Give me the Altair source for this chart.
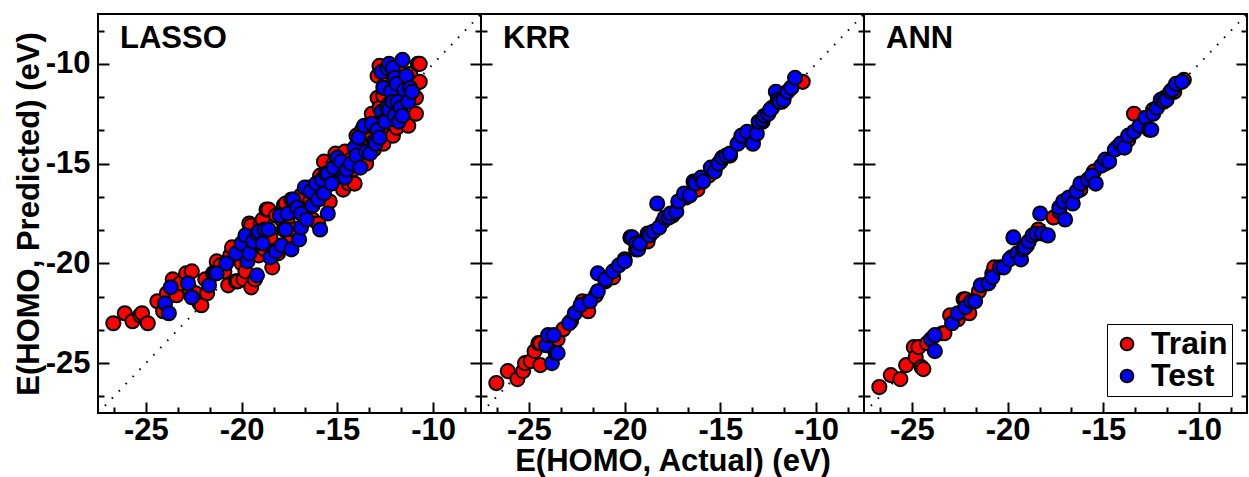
import altair as alt
import pandas as pd

# ---------------- data, (actual, predicted) pairs ----------------
lasso_train = [
    (-26.7, -23.0), (-26.1, -22.5), (-25.7, -22.9), (-25.3, -22.6), (-25.2, -22.5), (-24.9, -23.0),
    (-24.4, -21.9), (-24.1, -22.4), (-23.9, -21.5), (-23.6, -20.8), (-23.4, -21.6), (-23.2, -21.0),
    (-22.9, -20.5), (-22.7, -21.3), (-22.6, -20.4), (-22.4, -21.5), (-22.2, -22.0), (-22.1, -22.1),
    (-21.9, -20.8), (-21.8, -21.5), (-21.5, -20.5), (-21.3, -19.9), (-21.1, -20.1), (-20.9, -20.4),
    (-20.7, -21.1), (-20.6, -19.6), (-20.5, -19.2), (-20.3, -20.9), (-20.2, -20.9), (-20.1, -19.4),
    (-20.0, -20.0), (-19.9, -20.8), (-19.8, -20.4), (-19.6, -18.0), (-19.5, -21.2), (-19.5, -18.1),
    (-19.3, -20.8), (-19.1, -19.6), (-19.0, -18.0), (-18.9, -17.8), (-18.8, -19.3), (-18.7, -17.3),
    (-18.6, -17.3), (-18.5, -18.7), (-18.4, -20.2), (-18.2, -17.6), (-18.1, -19.5), (-17.9, -17.8),
    (-17.8, -17.1), (-17.7, -17.0), (-17.6, -17.9), (-17.5, -18.6), (-17.3, -18.3), (-17.2, -17.2),
    (-17.0, -17.0), (-16.9, -16.6), (-16.7, -17.3), (-16.5, -16.2), (-16.4, -16.8), (-16.3, -17.8),
    (-16.1, -16.3), (-16.0, -18.0), (-15.9, -15.6), (-15.8, -16.7), (-15.7, -14.9), (-15.5, -15.8),
    (-15.4, -16.9), (-15.2, -15.0), (-15.1, -14.5), (-14.9, -14.8), (-14.8, -15.6), (-14.7, -16.3),
    (-14.6, -14.4), (-14.4, -16.0), (-14.3, -14.8), (-14.2, -15.3), (-14.1, -16.0), (-14.0, -13.6),
    (-13.9, -14.2), (-13.8, -14.8), (-13.7, -13.3), (-13.6, -13.9), (-13.5, -15.0), (-13.4, -13.2),
    (-13.3, -13.8), (-13.2, -12.5), (-13.1, -14.3), (-13.0, -13.0), (-12.9, -11.7), (-12.9, -10.6),
    (-12.8, -10.1), (-12.8, -12.2), (-12.7, -13.4), (-12.6, -11.6), (-12.6, -14.0), (-12.5, -11.0),
    (-12.3, -12.0), (-12.3, -10.4), (-12.1, -13.6), (-12.0, -10.9), (-11.9, -13.2), (-11.8, -10.3),
    (-11.7, -11.0), (-11.6, -11.9), (-11.5, -12.7), (-11.4, -12.9), (-11.3, -13.1), (-11.2, -10.5),
    (-11.0, -11.1), (-10.9, -11.7), (-10.9, -12.5), (-10.8, -10.0), (-10.7, -10.0), (-10.7, -10.9),
]
lasso_test = [
    (-24.0, -22.0), (-23.8, -22.5), (-23.7, -21.2), (-22.8, -21.0), (-22.6, -21.7), (-21.7, -21.1),
    (-21.4, -20.5), (-21.3, -20.5), (-20.8, -20.0), (-20.3, -19.5), (-20.0, -19.0), (-19.8, -18.6),
    (-19.7, -19.9), (-19.6, -19.5), (-19.4, -18.9), (-19.2, -18.5), (-19.2, -20.6), (-19.1, -18.4),
    (-18.9, -19.0), (-18.8, -18.3), (-18.6, -18.3), (-18.5, -19.7), (-18.2, -19.4), (-18.0, -17.6),
    (-17.9, -19.1), (-17.8, -18.3), (-17.7, -18.3), (-17.6, -17.5), (-17.4, -16.8), (-17.4, -19.3),
    (-17.3, -16.8), (-17.1, -17.2), (-17.0, -18.8), (-16.9, -17.5), (-16.9, -18.2), (-16.7, -16.2),
    (-16.6, -17.8), (-16.4, -16.4), (-16.3, -17.1), (-16.1, -16.0), (-16.0, -16.8), (-15.9, -18.3),
    (-15.8, -15.8), (-15.7, -16.5), (-15.6, -15.5), (-15.5, -17.5), (-15.5, -15.5), (-15.3, -16.0),
    (-15.2, -15.2), (-15.0, -14.7), (-14.8, -14.9), (-14.7, -15.6), (-14.6, -15.7), (-14.5, -15.3),
    (-14.3, -15.0), (-14.1, -14.2), (-14.0, -14.6), (-13.9, -13.7), (-13.8, -15.2), (-13.6, -13.1),
    (-13.5, -14.4), (-13.3, -14.5), (-13.2, -13.0), (-13.1, -13.9), (-13.0, -14.0), (-12.9, -13.3),
    (-12.8, -13.7), (-12.7, -12.4), (-12.7, -10.4), (-12.6, -11.2), (-12.5, -12.8), (-12.5, -12.9),
    (-12.4, -12.2), (-12.4, -10.2), (-12.3, -12.3), (-12.3, -10.0), (-12.2, -11.4), (-12.1, -11.9),
    (-12.1, -10.2), (-12.0, -10.7), (-12.0, -12.6), (-11.9, -11.0), (-11.85, -11.9), (-11.8, -12.9),
    (-11.7, -12.2), (-11.6, -9.8), (-11.6, -12.6), (-11.5, -11.3), (-11.4, -10.6), (-11.3, -11.9),
    (-11.2, -11.2), (-11.1, -11.4),
]
krr_train = [
    (-26.7, -26.0), (-26.1, -25.4), (-25.6, -25.8), (-25.3, -25.4), (-25.2, -25.0), (-24.9, -24.9),
    (-24.7, -24.4), (-24.5, -24.0), (-24.4, -25.1), (-24.4, -24.0), (-23.5, -23.8), (-23.2, -23.3),
    (-22.8, -22.9), (-22.3, -22.2), (-22.2, -21.9), (-22.0, -22.0), (-21.9, -22.4), (-21.5, -21.6),
    (-21.0, -20.9), (-20.7, -20.6), (-20.6, -20.7), (-20.0, -19.8), (-19.4, -19.3), (-18.8, -18.9),
    (-18.0, -17.9), (-17.5, -17.6), (-16.8, -16.7), (-16.2, -16.3), (-15.6, -15.6), (-15.0, -14.9),
    (-14.5, -14.6), (-14.0, -13.9), (-13.4, -13.5), (-12.8, -12.9), (-12.3, -12.2), (-11.8, -11.9),
    (-11.3, -11.2), (-10.7, -10.9),
]
krr_test = [
    (-24.1, -24.1), (-24.0, -23.6), (-23.8, -25.0), (-23.7, -23.6), (-23.6, -24.5), (-23.5, -24.5),
    (-22.9, -23.0), (-22.6, -22.5), (-22.3, -22.1), (-21.8, -21.9), (-21.4, -21.4), (-21.4, -20.5),
    (-21.0, -20.8), (-20.6, -20.4), (-20.3, -20.1), (-20.0, -19.9), (-19.7, -18.7), (-19.6, -18.7),
    (-19.4, -19.0), (-19.3, -19.3), (-19.2, -19.0), (-18.8, -18.5), (-18.7, -18.6), (-18.5, -18.4),
    (-18.3, -17.0), (-18.2, -18.2), (-17.9, -17.7), (-17.7, -17.7), (-17.6, -17.5), (-17.3, -17.4),
    (-17.2, -16.9), (-16.9, -16.5), (-16.6, -16.6), (-16.4, -15.9), (-16.3, -16.0), (-16.0, -15.7),
    (-15.9, -15.9), (-15.5, -15.2), (-15.3, -15.4), (-15.1, -15.0), (-14.9, -14.7), (-14.7, -14.6),
    (-14.5, -14.5), (-14.1, -14.0), (-13.9, -13.6), (-13.6, -13.4), (-13.3, -14.0), (-13.1, -13.5),
    (-13.0, -12.9), (-12.8, -12.8), (-12.7, -12.6), (-12.5, -12.5), (-12.4, -12.3), (-12.1, -11.4),
    (-12.0, -11.8), (-11.9, -11.9), (-11.7, -11.8), (-11.5, -11.4), (-11.3, -11.2), (-11.1, -10.7),
]
ann_train = [
    (-26.7, -26.2), (-26.1, -25.6), (-25.6, -25.8), (-25.3, -25.1), (-24.9, -24.2), (-24.8, -24.7),
    (-24.65, -24.2), (-24.5, -25.2), (-24.4, -25.3), (-24.2, -24.0), (-23.4, -23.5), (-23.3, -23.5),
    (-23.0, -22.6), (-22.6, -22.8), (-22.3, -21.8), (-22.2, -21.8), (-22.0, -22.5), (-21.5, -21.4),
    (-20.8, -20.5), (-20.7, -20.2), (-19.8, -19.7), (-19.0, -19.1), (-18.4, -18.3), (-17.6, -17.7),
    (-16.9, -16.8), (-16.2, -16.3), (-15.5, -15.4), (-14.9, -15.0), (-14.3, -14.2), (-13.7, -13.8),
    (-13.4, -12.5), (-13.0, -13.1), (-12.4, -12.3), (-11.8, -11.7), (-11.3, -11.4), (-10.8, -10.8),
]
ann_test = [
    (-24.0, -23.8), (-23.8, -24.4), (-23.8, -23.6), (-22.9, -23.0), (-22.6, -22.5), (-22.2, -22.2),
    (-21.9, -21.9), (-21.7, -21.9), (-21.4, -21.1), (-21.0, -21.0), (-20.8, -20.7), (-20.4, -20.2),
    (-20.2, -20.2), (-19.9, -19.8), (-19.7, -18.7), (-19.5, -19.5), (-19.3, -19.8), (-19.2, -19.3),
    (-19.1, -19.2), (-18.9, -18.9), (-18.7, -18.6), (-18.5, -18.5), (-18.3, -17.5), (-18.2, -18.5),
    (-17.9, -18.6), (-17.3, -17.4), (-17.3, -17.2), (-17.1, -16.9), (-17.0, -17.8), (-16.8, -16.7),
    (-16.6, -17.0), (-16.4, -16.4), (-16.2, -16.0), (-15.8, -15.8), (-15.6, -15.6), (-15.4, -16.0),
    (-15.1, -15.1), (-14.9, -14.8), (-14.7, -14.9), (-14.4, -14.3), (-14.1, -14.0), (-13.9, -14.2),
    (-13.7, -13.6), (-13.4, -13.4), (-13.1, -13.1), (-12.8, -12.7), (-12.6, -13.3), (-12.5, -13.3),
    (-12.4, -12.5), (-12.2, -12.2), (-12.0, -11.8), (-11.85, -11.9), (-11.7, -11.8), (-11.5, -11.4),
    (-11.4, -11.3), (-11.2, -11.0), (-10.9, -10.9),
]

panel_names = ["LASSO", "KRR", "ANN"]
series_names = ["Train", "Test"]
series_colors = ["#ff0000", "#0000ff"]
axis_range = [-27.5, -7.5]
major_ticks = [-25, -20, -15, -10]
all_ticks = [-26.6667, -25, -23.3333, -21.6667, -20, -18.3333, -16.6667, -15,
             -13.3333, -11.6667, -10, -8.3333]
x_title = "E(HOMO, Actual) (eV)"
y_title = "E(HOMO, Predicted) (eV)"

# ---------------- styling ----------------
W, H = 383, 399
FONT = "Liberation Sans"
FS = 31
tick_size = {"condition": {"test": "abs(datum.value % 5) < 0.01", "value": 11}, "value": 6}


def tick_axis(orient, off):
    return alt.Axis(orient=orient, offset=off, values=all_ticks, labels=False, domain=False,
                    grid=False, ticks=True, tickColor="black", tickWidth=2,
                    tickSize=tick_size, title=None)


def to_frame(pairs, label):
    return pd.DataFrame({"actual": [p[0] for p in pairs],
                         "pred": [p[1] for p in pairs],
                         "set": label})


def panel(name, train_pairs, test_pairs, first=False, middle=False, last=False):
    scale = alt.Scale(domain=axis_range, nice=False, zero=False)
    train = to_frame(train_pairs, series_names[0])
    test = to_frame(test_pairs, series_names[1])
    diag = pd.DataFrame({"actual": axis_range, "pred": axis_range})

    x_label_axis = alt.Axis(orient="bottom", values=major_ticks, ticks=False, tickSize=0,
                            domain=False, grid=False, labelExpr="'-' + abs(datum.value)",
                            labelPadding=2, title=x_title if middle else None, titlePadding=1)
    if first:
        y_axis = alt.Axis(orient="left", values=major_ticks, ticks=False, tickSize=0,
                          domain=False, grid=False, labelExpr="'-' + abs(datum.value)",
                          labelPadding=8, title=y_title, titlePadding=0)
    else:
        y_axis = None

    if last:
        legend = alt.Legend(orient="none", legendX=243, legendY=310, title=None,
                            labelFont=FONT, labelFontSize=32, labelFontWeight="bold",
                            labelColor="black", symbolType="circle", symbolSize=160,
                            symbolStrokeColor="black", symbolStrokeWidth=2, symbolOpacity=1,
                            strokeColor="black", fillColor="white", padding=4,
                            rowPadding=-6, labelOffset=8, cornerRadius=0)
    else:
        legend = None
    color = alt.Color("set:N", scale=alt.Scale(domain=series_names, range=series_colors),
                      legend=legend)

    diag_layer = alt.Chart(diag).mark_line(
        color="black", strokeWidth=2, strokeDash=[1.5, 8.5], clip=True
    ).encode(
        x=alt.X("actual:Q", scale=scale, axis=tick_axis("top", -H)),
        y=alt.Y("pred:Q", scale=scale, axis=tick_axis("right", -W)),
    )
    train_layer = alt.Chart(train).mark_circle(
        size=200, opacity=1, stroke="black", strokeWidth=2
    ).encode(
        x=alt.X("actual:Q", scale=scale, axis=x_label_axis),
        y=alt.Y("pred:Q", scale=scale, axis=y_axis),
        color=color,
    )
    test_layer = alt.Chart(test).mark_circle(
        size=200, opacity=1, stroke="black", strokeWidth=2
    ).encode(
        x=alt.X("actual:Q", scale=scale, axis=None),
        y=alt.Y("pred:Q", scale=scale, axis=tick_axis("left", -W)),
        color=color,
    )
    text_layer = alt.Chart(pd.DataFrame({"label": [name]})).mark_text(
        align="left", baseline="alphabetic", font=FONT, fontSize=FS, fontWeight="bold",
        color="black"
    ).encode(text="label:N", x=alt.value(22), y=alt.value(34))

    return alt.layer(diag_layer, train_layer, test_layer, text_layer).resolve_axis(
        x="independent", y="independent"
    ).properties(width=W, height=H)


p1 = panel(panel_names[0], lasso_train, lasso_test, first=True)
p2 = panel(panel_names[1], krr_train, krr_test, middle=True)
p3 = panel(panel_names[2], ann_train, ann_test, last=True)

chart = alt.hconcat(p1, p2, p3, spacing=0, bounds="flush").resolve_scale(
    color="independent"
).properties(
    padding={"left": 12, "top": 13, "right": 0, "bottom": 0}
).configure(
    font=FONT
).configure_axis(
    labelFont=FONT, titleFont=FONT, labelFontSize=FS, titleFontSize=FS,
    labelFontWeight="bold", titleFontWeight="bold", labelColor="black", titleColor="black",
    grid=False
).configure_view(
    stroke="black", strokeWidth=2
)

chart.save("out.html", embed_options={"renderer": "svg", "actions": False})
